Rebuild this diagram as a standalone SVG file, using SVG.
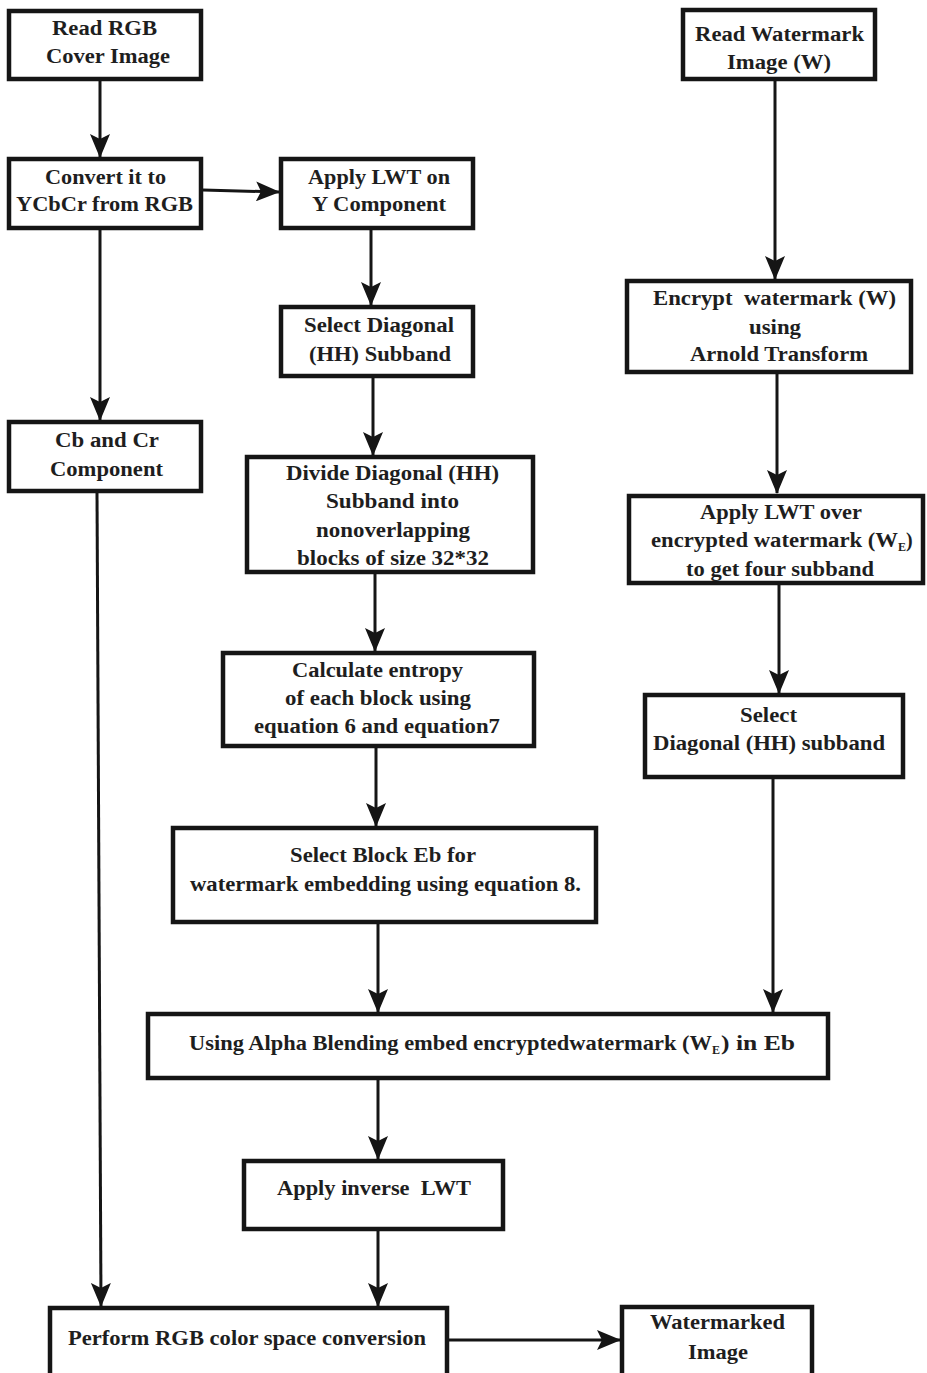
<svg xmlns="http://www.w3.org/2000/svg" width="927" height="1373" viewBox="0 0 927 1373">
<style>
.box{fill:#fff;stroke:#151515;stroke-width:4.5}
.t{font-family:"Liberation Serif","Times New Roman",serif;font-weight:bold;font-size:20px;fill:#1e1e1e}
.t2{font-family:"Liberation Serif","Times New Roman",serif;font-weight:bold;font-size:21px;fill:#1e1e1e}
.c{fill:none;stroke:#151515;stroke-width:3}
.sub{font-family:"Liberation Serif","Times New Roman",serif;font-weight:bold;font-size:12px;fill:#1e1e1e}
</style>
<defs>
<marker id="ah" viewBox="0 0 24 20" refX="23" refY="10" markerWidth="24" markerHeight="20" markerUnits="userSpaceOnUse" orient="auto">
<path d="M0,0 L24,10 L0,20 L5,10 Z" fill="#151515"/>
</marker>
</defs>
<rect width="927" height="1373" fill="#fff"/>
<g id="connectors">
<path class="c" d="M100,81 V157" marker-end="url(#ah)"/>
<path class="c" d="M203,190 L279,192" marker-end="url(#ah)"/>
<path class="c" d="M100,229 V420" marker-end="url(#ah)"/>
<path class="c" d="M371,229 V305" marker-end="url(#ah)"/>
<path class="c" d="M373,377 V455" marker-end="url(#ah)"/>
<path class="c" d="M375,573 V651" marker-end="url(#ah)"/>
<path class="c" d="M376,747 V826" marker-end="url(#ah)"/>
<path class="c" d="M378,923 V1012" marker-end="url(#ah)"/>
<path class="c" d="M775,80 V279" marker-end="url(#ah)"/>
<path class="c" d="M777,373 V493" marker-end="url(#ah)"/>
<path class="c" d="M779,585 V693" marker-end="url(#ah)"/>
<path class="c" d="M773,778 V1012" marker-end="url(#ah)"/>
<path class="c" d="M97,492 L101,1306" marker-end="url(#ah)"/>
<path class="c" d="M378,1080 V1159" marker-end="url(#ah)"/>
<path class="c" d="M378,1230 V1306" marker-end="url(#ah)"/>
<path class="c" d="M449,1340 H620" marker-end="url(#ah)"/>
</g>
<g id="n1"><rect class="box" x="9" y="11" width="192" height="68"/>
<text class="t" x="52" y="35" textLength="105" lengthAdjust="spacingAndGlyphs">Read RGB</text>
<text class="t" x="46" y="63" textLength="124" lengthAdjust="spacingAndGlyphs">Cover Image</text></g>
<g id="n2"><rect class="box" x="9" y="159" width="192" height="69"/>
<text class="t" x="45" y="184" textLength="121" lengthAdjust="spacingAndGlyphs">Convert it to</text>
<text class="t" x="16" y="211" textLength="177" lengthAdjust="spacingAndGlyphs">YCbCr from RGB</text></g>
<g id="n3"><rect class="box" x="281" y="159" width="192" height="69"/>
<text class="t" x="308" y="184" textLength="142" lengthAdjust="spacingAndGlyphs">Apply LWT on</text>
<text class="t" x="312" y="211" textLength="134" lengthAdjust="spacingAndGlyphs">Y Component</text></g>
<g id="n4"><rect class="box" x="683" y="10" width="192" height="69"/>
<text class="t" x="695" y="41" textLength="169" lengthAdjust="spacingAndGlyphs">Read Watermark</text>
<text class="t" x="727" y="69" textLength="104" lengthAdjust="spacingAndGlyphs">Image (W)</text></g>
<g id="n5"><rect class="box" x="281" y="307" width="192" height="69"/>
<text class="t" x="304" y="332" textLength="150" lengthAdjust="spacingAndGlyphs">Select Diagonal</text>
<text class="t" x="309" y="361" textLength="142" lengthAdjust="spacingAndGlyphs">(HH) Subband</text></g>
<g id="n6"><rect class="box" x="9" y="422" width="192" height="69"/>
<text class="t" x="55" y="447" textLength="104" lengthAdjust="spacingAndGlyphs">Cb and Cr</text>
<text class="t" x="50" y="476" textLength="113" lengthAdjust="spacingAndGlyphs">Component</text></g>
<g id="n7"><rect class="box" x="247" y="457" width="286" height="115"/>
<text class="t" x="286" y="480" textLength="213" lengthAdjust="spacingAndGlyphs">Divide Diagonal (HH)</text>
<text class="t" x="326" y="508" textLength="133" lengthAdjust="spacingAndGlyphs">Subband into</text>
<text class="t" x="316" y="537" textLength="154" lengthAdjust="spacingAndGlyphs">nonoverlapping</text>
<text class="t" x="297" y="565" textLength="192" lengthAdjust="spacingAndGlyphs">blocks of size 32*32</text></g>
<g id="n8"><rect class="box" x="627" y="281" width="284" height="91"/>
<text class="t" x="653" y="305" textLength="243" lengthAdjust="spacingAndGlyphs" xml:space="preserve">Encrypt  watermark (W)</text>
<text class="t" x="749" y="334" textLength="52" lengthAdjust="spacingAndGlyphs">using</text>
<text class="t" x="690" y="361" textLength="178" lengthAdjust="spacingAndGlyphs">Arnold Transform</text></g>
<g id="n9"><rect class="box" x="629" y="496" width="294" height="87"/>
<text class="t" x="700" y="519" textLength="162" lengthAdjust="spacingAndGlyphs">Apply LWT over</text>
<text class="t" x="651" y="547" textLength="247" lengthAdjust="spacingAndGlyphs">encrypted watermark (W</text>
<text class="sub" x="898" y="551">E</text>
<text class="t" x="906" y="547">)</text>
<text class="t" x="686" y="576" textLength="188" lengthAdjust="spacingAndGlyphs">to get four subband</text></g>
<g id="n10"><rect class="box" x="223" y="653" width="311" height="93"/>
<text class="t" x="292" y="677" textLength="171" lengthAdjust="spacingAndGlyphs">Calculate entropy</text>
<text class="t" x="285" y="705" textLength="186" lengthAdjust="spacingAndGlyphs">of each block using</text>
<text class="t" x="254" y="733" textLength="246" lengthAdjust="spacingAndGlyphs">equation 6 and equation7</text></g>
<g id="n11"><rect class="box" x="645" y="695" width="258" height="82"/>
<text class="t" x="740" y="722" textLength="57" lengthAdjust="spacingAndGlyphs">Select</text>
<text class="t" x="653" y="750" textLength="232" lengthAdjust="spacingAndGlyphs">Diagonal (HH) subband</text></g>
<g id="n12"><rect class="box" x="173" y="828" width="423" height="94"/>
<text class="t2" x="290" y="862" textLength="186" lengthAdjust="spacingAndGlyphs">Select Block Eb for</text>
<text class="t2" x="190" y="891" textLength="391" lengthAdjust="spacingAndGlyphs">watermark embedding using equation 8.</text></g>
<g id="n13"><rect class="box" x="148" y="1014" width="680" height="64"/>
<text class="t2" x="189" y="1050" textLength="523" lengthAdjust="spacingAndGlyphs">Using Alpha Blending embed encryptedwatermark (W</text>
<text class="sub" x="712" y="1054">E</text>
<text class="t2" x="721" y="1050" textLength="74" lengthAdjust="spacingAndGlyphs">) in Eb</text></g>
<g id="n14"><rect class="box" x="244" y="1161" width="259" height="68"/>
<text class="t2" x="277" y="1195" textLength="194" lengthAdjust="spacingAndGlyphs" xml:space="preserve">Apply inverse  LWT</text></g>
<g id="n15"><rect class="box" x="50" y="1308" width="397" height="72"/>
<text class="t2" x="68" y="1345" textLength="358" lengthAdjust="spacingAndGlyphs">Perform RGB color space conversion</text></g>
<g id="n16"><rect class="box" x="622" y="1307" width="190" height="72"/>
<text class="t2" x="650" y="1329" textLength="135" lengthAdjust="spacingAndGlyphs">Watermarked</text>
<text class="t2" x="688" y="1359" textLength="60" lengthAdjust="spacingAndGlyphs">Image</text></g>
</svg>
